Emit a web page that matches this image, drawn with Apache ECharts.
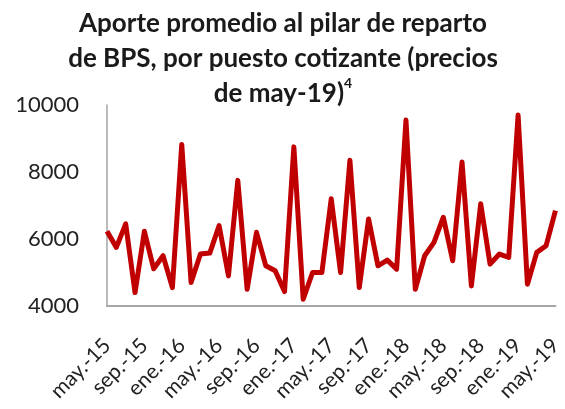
<!DOCTYPE html>
<html>
<head>
<meta charset="utf-8">
<script src="https://cdn.jsdelivr.net/npm/echarts@6/dist/echarts.min.js"></script>
<style>html,body{margin:0;padding:0;background:#fff}#c{width:565px;height:409px}</style>
</head>
<body>
<div id="c"></div>
<script>
const categories = [
  "may.-15","jun.-15","jul.-15","ago.-15","sep.-15","oct.-15","nov.-15","dic.-15",
  "ene.-16","feb.-16","mar.-16","abr.-16","may.-16","jun.-16","jul.-16","ago.-16","sep.-16","oct.-16","nov.-16","dic.-16",
  "ene.-17","feb.-17","mar.-17","abr.-17","may.-17","jun.-17","jul.-17","ago.-17","sep.-17","oct.-17","nov.-17","dic.-17",
  "ene.-18","feb.-18","mar.-18","abr.-18","may.-18","jun.-18","jul.-18","ago.-18","sep.-18","oct.-18","nov.-18","dic.-18",
  "ene.-19","feb.-19","mar.-19","abr.-19","may.-19"
];
const aporte = [
  6230,5750,6450,4400,6230,5110,5500,4550,
  8820,4700,5550,5580,6400,4900,7750,4500,6200,5200,5050,4430,
  8750,4200,5000,5000,7200,5000,8350,4550,6600,5200,5370,5100,
  9550,4500,5500,5900,6650,5350,8300,4600,7050,5250,5550,5450,
  9700,4650,5600,5800,6850
];
const yTicks = { min: 4000, max: 10000, interval: 2000 };
const titleLines = ["Aporte promedio al pilar de reparto", "de BPS, por puesto cotizante (precios", "de may-19)"];
const titleSup = "4";

const chart = echarts.init(document.getElementById('c'), null, { renderer: 'canvas' });
chart.setOption({
  animation: false,
  backgroundColor: '#ffffff',
  title: {
    text: titleLines[0] + '\n' + titleLines[1] + '\n' + titleLines[2] + '{sup|' + titleSup + '}',
    left: 278,
    textAlign: 'center',
    top: 1,
    textStyle: {
      fontFamily: 'Lato',
      fontWeight: 'bold',
      fontSize: 26,
      lineHeight: 35,
      color: '#1a1a1a',
      rich: {
        sup: { fontFamily: 'Lato', fontWeight: 'bold', fontSize: 14, verticalAlign: 'top', lineHeight: 20, color: '#1a1a1a' }
      }
    }
  },
  grid: { left: 107, right: 2, top: 105, bottom: 103, containLabel: false },
  xAxis: {
    type: 'category',
    data: categories,
    boundaryGap: false,
    axisLine: { show: true, lineStyle: { color: '#a6a6a6', width: 2 } },
    axisTick: { show: false },
    axisLabel: {
      interval: 3,
      rotate: 45,
      margin: 36,
      fontFamily: 'Lato',
      fontSize: 21,
      color: '#222'
    },
    splitLine: { show: false }
  },
  yAxis: {
    type: 'value',
    min: yTicks.min,
    max: yTicks.max,
    interval: yTicks.interval,
    axisLine: { show: true, lineStyle: { color: '#a6a6a6', width: 1.5 } },
    axisTick: { show: false },
    splitLine: { show: false },
    axisLabel: { margin: 28, fontFamily: 'Lato', fontSize: 22, color: '#222', formatter: function (v) { return String(v); } }
  },
  series: [{
    type: 'line',
    data: aporte,
    symbol: 'none',
    smooth: false,
    lineStyle: { color: '#C00000', width: 5, join: 'round' }
  }]
});
</script>
</body>
</html>
